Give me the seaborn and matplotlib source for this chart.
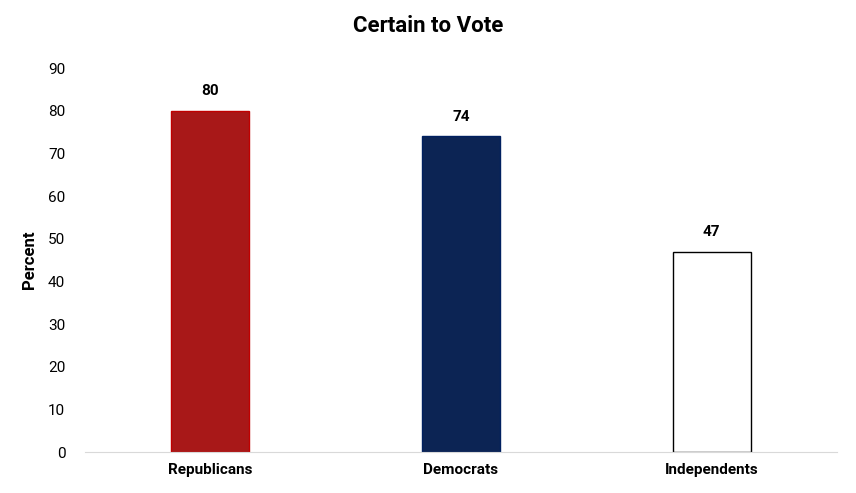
import matplotlib
matplotlib.use("Agg")
import matplotlib.pyplot as plt
import seaborn as sns
import pandas as pd

categories = ["Republicans", "Democrats", "Independents"]
values = [80, 74, 47]
colors = ["#C00000", "#002060", "#FFFFFF"]
yticks = [0, 10, 20, 30, 40, 50, 60, 70, 80, 90]

plt.rcParams["font.family"] = "Roboto"
df = pd.DataFrame({"party": categories, "pct": values})
fig = plt.figure(figsize=(8.56, 4.93), dpi=100)
ax = fig.add_axes([0.099, 0.083, 0.879, 0.779])
sns.barplot(data=df, x="party", y="pct", hue="party", palette=colors, width=0.31,
            edgecolor="black", linewidth=1, legend=False, ax=ax)
for p, c in zip(ax.patches, colors):
    if c == "#FFFFFF":
        p.set_edgecolor("black")
    else:
        p.set_edgecolor(c)
for i, v in enumerate(values):
    ax.text(i, v + 3, str(v), ha="center", va="bottom", fontsize=11, fontweight="bold")
ax.set_ylim(0, 90)
ax.set_xlim(-0.5, 2.5)
ax.set_yticks(yticks)
ax.tick_params(axis="y", length=0, labelsize=11, pad=14)
ax.tick_params(axis="x", length=0, labelsize=11, pad=8)
for l in ax.get_xticklabels():
    l.set_fontweight("bold")
ax.set_xlabel("")
ax.set_ylabel("Percent", fontsize=12, fontweight="bold", labelpad=8)
for s in ["top", "right", "left"]:
    ax.spines[s].set_visible(False)
ax.spines["bottom"].set_color("#D9D9D9")
fig.suptitle("Certain to Vote", fontsize=16, fontweight="bold", y=0.97)
fig.savefig("out.png", dpi=100)
